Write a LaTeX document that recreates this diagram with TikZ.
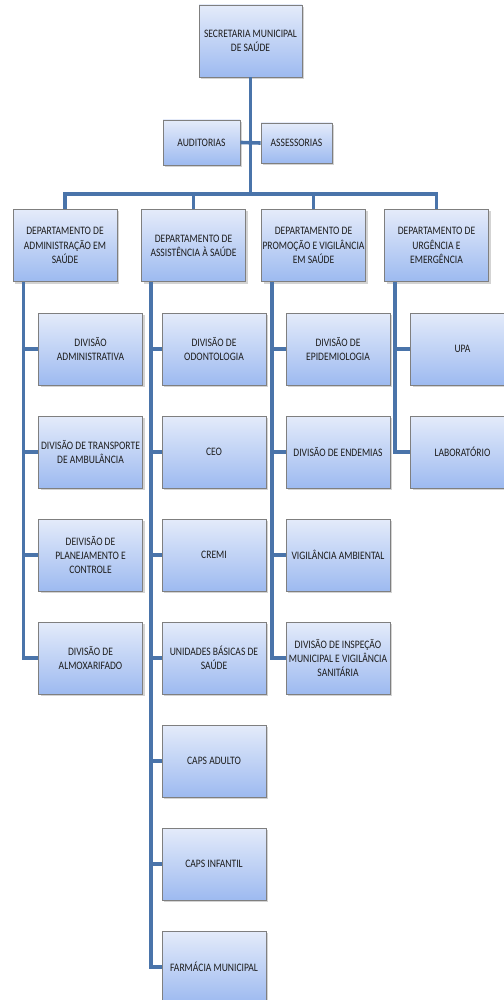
\documentclass[tikz,border=0pt]{standalone}
\usepackage{fontspec}
\setmainfont{Carlito}[FakeStretch=0.84]
\usetikzlibrary{shadows}
\definecolor{boxtop}{HTML}{E4EBFA}
\definecolor{boxbot}{HTML}{9DBAF0}
\definecolor{boxline}{HTML}{7F7F7F}
\definecolor{conncol}{HTML}{4A74AA}
\definecolor{txtcol}{HTML}{1E1E1E}
\begin{document}
\begin{tikzpicture}[x=1pt,y=-1pt]
\tikzset{
  orgbox/.style={draw=boxline, line width=0.8pt, top color=boxtop, bottom color=boxbot,
    drop shadow={opacity=0.35, shadow xshift=2pt, shadow yshift=-2pt},
    minimum width=104pt, minimum height=72pt, align=center, inner sep=1pt,
    text=txtcol, font=\fontsize{11.4}{14.2}\selectfont},
  conn/.style={draw=conncol, line width=3.6pt}
}
\useasboundingbox (0,0) rectangle (503,1000);
\node[orgbox, minimum width=103pt] (sec) at (250.5,41) {SECRETARIA MUNICIPAL\\DE SAÚDE};
\node[orgbox, minimum width=77pt, minimum height=45pt] (aud) at (201.5,142.5) {AUDITORIAS};
\node[orgbox, minimum width=71pt, minimum height=40pt] (ass) at (296.5,143) {ASSESSORIAS};
\node[orgbox] (dadm) at (65,245.5) {DEPARTAMENTO DE\\ADMINISTRAÇÃO EM\\SAÚDE};
\node[orgbox] (dass) at (193.5,245.5) {DEPARTAMENTO DE\\ASSISTÊNCIA À SAÚDE};
\node[orgbox] (dpro) at (313.5,245.5) {DEPARTAMENTO DE\\PROMOÇÃO E VIGILÂNCIA\\EM SAÚDE};
\node[orgbox] (durg) at (436.5,245.5) {DEPARTAMENTO DE\\URGÊNCIA E\\EMERGÊNCIA};
\node[orgbox] (adm1) at (90.5,349) {DIVISÃO\\ADMINISTRATIVA};
\node[orgbox] (adm2) at (90.5,452) {DIVISÃO DE TRANSPORTE\\DE AMBULÂNCIA};
\node[orgbox] (adm3) at (90.5,555) {DEIVISÃO DE\\PLANEJAMENTO E\\CONTROLE};
\node[orgbox] (adm4) at (90.5,658) {DIVISÃO DE\\ALMOXARIFADO};
\node[orgbox] (ass1) at (214,349) {DIVISÃO DE\\ODONTOLOGIA};
\node[orgbox] (ass2) at (214,452) {CEO};
\node[orgbox] (ass3) at (214,555) {CREMI};
\node[orgbox] (ass4) at (214,658) {UNIDADES BÁSICAS DE\\SAÚDE};
\node[orgbox] (ass5) at (214,761) {CAPS ADULTO};
\node[orgbox] (ass6) at (214,864) {CAPS INFANTIL};
\node[orgbox] (ass7) at (214,967) {FARMÁCIA MUNICIPAL};
\node[orgbox] (pro1) at (338,349) {DIVISÃO DE\\EPIDEMIOLOGIA};
\node[orgbox] (pro2) at (338,452) {DIVISÃO DE ENDEMIAS};
\node[orgbox] (pro3) at (338,555) {VIGILÂNCIA AMBIENTAL};
\node[orgbox] (pro4) at (338,658) {DIVISÃO DE INSPEÇÃO\\MUNICIPAL E VIGILÂNCIA\\SANITÁRIA};
\node[orgbox] (urg1) at (462.5,349) {UPA};
\node[orgbox] (urg2) at (462.5,452) {LABORATÓRIO};
\coordinate (bus) at (250.5,194);
\draw[conn] (sec.south) -- (bus);
\draw[conn] (aud.east) -- (ass.west);
\draw[conn] (dadm.north) |- (bus) -| (durg.north);
\draw[conn] (dass.north) -- (dass.north |- bus);
\draw[conn] (dpro.north) -- (dpro.north |- bus);
\draw[conn] ([xshift=11pt]dadm.south west) |- (adm4.west);
\foreach \n in {adm1,adm2,adm3}
  \draw[conn] (\n.west) -- ([xshift=11pt]dadm.south west |- \n.west);
\draw[conn] ([xshift=10pt]dass.south west) |- (ass7.west);
\foreach \n in {ass1,ass2,ass3,ass4,ass5,ass6}
  \draw[conn] (\n.west) -- ([xshift=10pt]dass.south west |- \n.west);
\draw[conn] ([xshift=11pt]dpro.south west) |- (pro4.west);
\foreach \n in {pro1,pro2,pro3}
  \draw[conn] (\n.west) -- ([xshift=11pt]dpro.south west |- \n.west);
\draw[conn] ([xshift=11pt]durg.south west) |- (urg2.west);
\draw[conn] (urg1.west) -- ([xshift=11pt]durg.south west |- urg1.west);
\end{tikzpicture}
\end{document}
